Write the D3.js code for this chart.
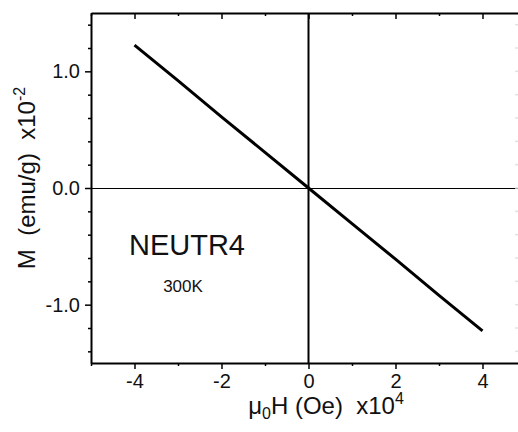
<!DOCTYPE html>
<html>
<head>
<meta charset="utf-8">
<script src="https://cdn.jsdelivr.net/npm/d3@7"></script>
<style>
  body { margin: 0; background: #fff; }
  svg text { font-family: "Liberation Sans", Arial, sans-serif; fill: #111; }
</style>
</head>
<body>
<div id="chart"></div>
<script>
// field (x10^4 Oe) and magnetization (x10^-2 emu/g)
var fieldH = [-4, -3, -2, -1, 0, 1, 2, 3, 4];
var magM = [1.225, 0.92, 0.61, 0.305, 0, -0.305, -0.61, -0.92, -1.225];
var xMajor = [-4, -2, 0, 2, 4];
var xMinor = [-5, -3, -1, 1, 3, 5];
var yMajor = [-1.0, 0.0, 1.0];
var yMinor = [-1.4, -1.2, -0.8, -0.6, -0.4, -0.2, 0.2, 0.4, 0.6, 0.8, 1.2, 1.4];
var sampleName = 'NEUTR4';
var tempLabel = '300K';

(function () {
    'use strict';
    var width = 518, height = 432;
    var left = 91, top = 13, bottom = 363;

    var svg = d3.select('#chart').append('svg')
        .attr('width', width)
        .attr('height', height);

    var x = d3.scaleLinear().domain([-5, 5]).range([left, 526]);
    var y = d3.scaleLinear().domain([-1.5, 1.5]).range([bottom, top]);

    // plain hyphen for negatives, like the original
    var fmtX = function (d) { return String(d); };
    var fmtY = function (d) { return d.toFixed(1); };

    // zero lines
    svg.append('line')
        .attr('x1', left).attr('x2', width)
        .attr('y1', Math.round(y(0)) + 0.5).attr('y2', Math.round(y(0)) + 0.5)
        .style('stroke', '#000').style('stroke-width', 1.2);
    svg.append('line')
        .attr('x1', x(0)).attr('x2', x(0))
        .attr('y1', top).attr('y2', bottom)
        .style('stroke', '#000').style('stroke-width', 2);

    // bottom axis, ticks outward
    var bAxis = svg.append('g').attr('transform', 'translate(0,' + bottom + ')');
    bAxis.call(d3.axisBottom(x).tickValues(xMajor).tickSize(6).tickSizeOuter(0)
        .tickFormat(fmtX).tickPadding(5));
    bAxis.append('g').call(d3.axisBottom(x).tickValues(xMinor).tickSize(3).tickFormat(''))
        .select('.domain').remove();

    // top axis, ticks inward
    var tAxis = svg.append('g').attr('transform', 'translate(0,' + top + ')');
    tAxis.call(d3.axisBottom(x).tickValues(xMajor).tickSize(6).tickSizeOuter(0).tickFormat(''));
    tAxis.append('g').call(d3.axisBottom(x).tickValues(xMinor).tickSize(3).tickFormat(''))
        .select('.domain').remove();

    // left axis, ticks outward
    var lAxis = svg.append('g').attr('transform', 'translate(' + left + ',0)');
    lAxis.call(d3.axisLeft(y).tickValues(yMajor).tickSize(6).tickSizeOuter(0)
        .tickFormat(fmtY).tickPadding(5));
    lAxis.append('g').call(d3.axisLeft(y).tickValues(yMinor).tickSize(3).tickFormat(''))
        .select('.domain').remove();

    svg.selectAll('.domain').style('stroke', '#000').style('stroke-width', 2);
    svg.selectAll('.tick line').style('stroke', '#000').style('stroke-width', 1.5);
    svg.selectAll('.tick text').style('font-size', '20px').style('fill', '#111')
        .style('font-family', '"Liberation Sans", Arial, sans-serif');

    // right spine is cropped off; only faint tick stubs show at the edge
    svg.append('g').selectAll('line')
        .data(yMajor.concat(yMinor))
        .enter().append('line')
        .attr('x1', 515).attr('x2', 518)
        .attr('y1', function (d) { return y(d); })
        .attr('y2', function (d) { return y(d); })
        .style('stroke', '#e2e2e2').style('stroke-width', 1.5);

    // data line
    var line = d3.line()
        .x(function (d, i) { return x(fieldH[i]); })
        .y(function (d) { return y(d); });
    svg.append('path')
        .datum(magM)
        .attr('d', line)
        .style('fill', 'none')
        .style('stroke', '#000')
        .style('stroke-width', 3);

    // labels in the plot
    svg.append('text')
        .attr('x', 187).attr('y', 255)
        .attr('text-anchor', 'middle')
        .style('font-size', '29px')
        .text(sampleName);
    svg.append('text')
        .attr('x', 183).attr('y', 292)
        .attr('text-anchor', 'middle')
        .style('font-size', '17px')
        .text(tempLabel);

    // x title
    var xt = svg.append('text')
        .attr('x', 326).attr('y', 414)
        .attr('text-anchor', 'middle')
        .style('font-size', '24px');
    xt.append('tspan').text('\u03bc');
    xt.append('tspan').attr('dy', 5).style('font-size', '16px').text('0');
    xt.append('tspan').attr('dy', -5).text('H (Oe)\u00a0 x10');
    xt.append('tspan').attr('dy', -10).style('font-size', '16px').text('4');

    // y title
    var yt = svg.append('text')
        .attr('transform', 'translate(35,178) rotate(-90)')
        .attr('text-anchor', 'middle')
        .style('font-size', '24px');
    yt.append('tspan').text('M\u00a0 (emu/g)\u00a0 x10');
    yt.append('tspan').attr('dy', -10).style('font-size', '16px').text('-2');
})();
</script>
</body>
</html>
